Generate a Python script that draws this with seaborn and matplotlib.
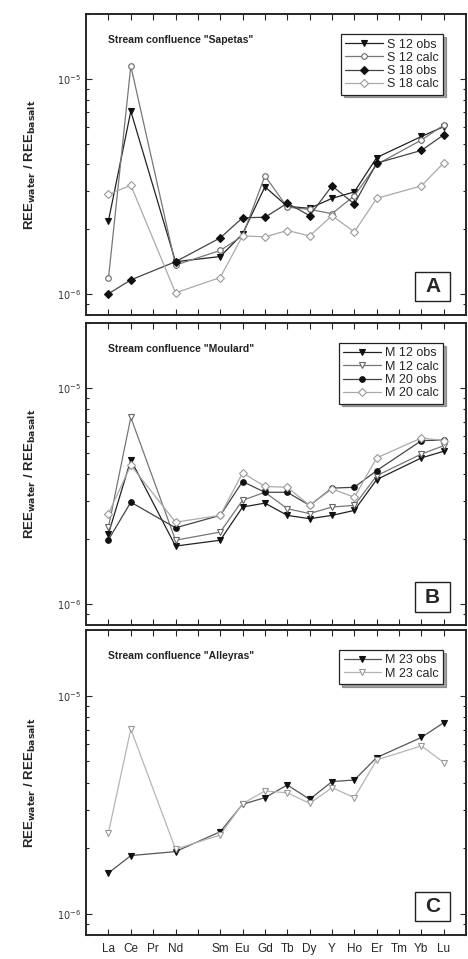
import numpy as np
import pandas as pd
import matplotlib
matplotlib.use("Agg")
import matplotlib.pyplot as plt
import seaborn as sns
from matplotlib.ticker import LogLocator, NullFormatter, FixedLocator
from matplotlib.patches import Rectangle

# tick axis (Pm slot left blank, Y placed between Dy and Ho)
tick_labels = ["La", "Ce", "Pr", "Nd", "", "Sm", "Eu", "Gd", "Tb", "Dy", "Y", "Ho", "Er", "Tm", "Yb", "Lu"]
elements = ["La", "Ce", "Nd", "Sm", "Eu", "Gd", "Tb", "Dy", "Y", "Ho", "Er", "Yb", "Lu"]

# panel A - Sapetas
s12_obs = [2.19e-6, 7.08e-6, 1.41e-6, 1.49e-6, 1.90e-6, 3.15e-6, 2.55e-6, 2.50e-6, 2.78e-6, 2.98e-6, 4.31e-6, 5.40e-6, 6.00e-6]
s12_calc = [1.18e-6, 1.15e-5, 1.36e-6, 1.59e-6, 1.86e-6, 3.54e-6, 2.53e-6, 2.47e-6, 2.36e-6, 2.86e-6, 4.00e-6, 5.20e-6, 6.10e-6]
s18_obs = [1.00e-6, 1.16e-6, 1.41e-6, 1.82e-6, 2.26e-6, 2.27e-6, 2.64e-6, 2.31e-6, 3.18e-6, 2.62e-6, 4.06e-6, 4.65e-6, 5.50e-6]
s18_calc = [2.90e-6, 3.20e-6, 1.01e-6, 1.19e-6, 1.86e-6, 1.84e-6, 1.97e-6, 1.86e-6, 2.31e-6, 1.94e-6, 2.78e-6, 3.18e-6, 4.07e-6]

# panel B - Moulard
m12_obs = [2.12e-6, 4.66e-6, 1.86e-6, 1.98e-6, 2.82e-6, 2.94e-6, 2.58e-6, 2.49e-6, 2.58e-6, 2.72e-6, 3.78e-6, 4.76e-6, 5.11e-6]
m12_calc = [2.28e-6, 7.33e-6, 1.98e-6, 2.16e-6, 3.03e-6, 3.30e-6, 2.77e-6, 2.63e-6, 2.82e-6, 2.87e-6, 3.94e-6, 4.96e-6, 5.42e-6]
m20_obs = [1.99e-6, 2.97e-6, 2.26e-6, 2.58e-6, 3.70e-6, 3.30e-6, 3.30e-6, 2.87e-6, 3.45e-6, 3.48e-6, 4.16e-6, 5.72e-6, 5.76e-6]
m20_calc = [2.63e-6, 4.40e-6, 2.40e-6, 2.58e-6, 4.06e-6, 3.51e-6, 3.48e-6, 2.87e-6, 3.42e-6, 3.13e-6, 4.76e-6, 5.89e-6, 5.72e-6]

# panel C - Alleyras
m23_obs = [1.54e-6, 1.85e-6, 1.93e-6, 2.38e-6, 3.18e-6, 3.41e-6, 3.90e-6, 3.35e-6, 4.04e-6, 4.11e-6, 5.21e-6, 6.44e-6, 7.53e-6]
m23_calc = [2.36e-6, 7.03e-6, 1.98e-6, 2.30e-6, 3.20e-6, 3.66e-6, 3.59e-6, 3.21e-6, 3.79e-6, 3.41e-6, 5.08e-6, 5.89e-6, 4.94e-6]

sns.set_style("ticks")
plt.rcParams["font.family"] = ["Liberation Sans", "DejaVu Sans"]

pos = {lab: i for i, lab in enumerate(tick_labels) if lab}
xs = [pos[e] for e in elements]

# style per series: marker, line colour, marker face / edge
obs_dark = dict(marker="v", color="#222222", mfc="#111111", mec="#111111")
calc_open = dict(marker="o", color="#777777", mfc="white", mec="#666666")
obs_dia = dict(marker="D", color="#444444", mfc="#111111", mec="#111111")
calc_light = dict(marker="D", color="#aaaaaa", mfc="white", mec="#999999")

panels = [
    ('Stream confluence "Sapetas"', "A",
     [("S 12 obs", s12_obs, obs_dark), ("S 12 calc", s12_calc, calc_open),
      ("S 18 obs", s18_obs, obs_dia), ("S 18 calc", s18_calc, calc_light)]),
    ('Stream confluence "Moulard"', "B",
     [("M 12 obs", m12_obs, obs_dark), ("M 12 calc", m12_calc, dict(calc_open, marker="v")),
      ("M 20 obs", m20_obs, dict(obs_dia, marker="o")), ("M 20 calc", m20_calc, calc_light)]),
    ('Stream confluence "Alleyras"', "C",
     [("M 23 obs", m23_obs, dict(obs_dark, color="#555555")),
      ("M 23 calc", m23_calc, dict(calc_light, marker="v", color="#b5b5b5"))]),
]

fig = plt.figure(figsize=(4.68, 9.59), dpi=100)
boxes = [(0.184, 0.672, 0.812, 0.313), (0.184, 0.348, 0.812, 0.315), (0.184, 0.025, 0.812, 0.318)]

for (title, letter, series), box in zip(panels, boxes):
    ax = fig.add_axes(box)
    for name, vals, st in series:
        sns.lineplot(x=xs, y=vals, ax=ax, label=name, color=st["color"], lw=0.9,
                     marker=st["marker"], markersize=4, markerfacecolor=st["mfc"],
                     markeredgecolor=st["mec"], markeredgewidth=0.8, sort=False)
    ax.set_yscale("log")
    ax.set_ylim(8e-7, 2e-5)
    ax.set_xlim(-1, 16)
    ax.yaxis.set_major_locator(FixedLocator([1e-6, 1e-5]))
    ax.yaxis.set_minor_locator(LogLocator(base=10, subs=np.arange(2, 10)))
    ax.yaxis.set_minor_formatter(NullFormatter())
    ax.set_yticklabels(["$10^{-6}$", "$10^{-5}$"], fontsize=7, color="#333333")
    ax.set_xticks(range(len(tick_labels)))
    if letter == "C":
        ax.set_xticklabels(tick_labels, fontsize=8.5)
    else:
        ax.set_xticklabels([])
    ax.tick_params(axis="both", which="both", direction="in", top=True, right=True, length=4, width=0.8)
    ax.tick_params(axis="y", which="minor", length=2.5)
    ax.tick_params(axis="x", pad=6)
    for sp in ax.spines.values():
        sp.set_linewidth(1.4)
    ax.set_ylabel(r"REE$_{\mathbf{water}}$ / REE$_{\mathbf{basalt}}$", fontsize=9.5, fontweight="bold", labelpad=14)
    ax.set_xlabel("")
    ax.text(0.058, 0.905, title, transform=ax.transAxes, fontsize=7.5, fontweight="bold", color="#222222")
    ax.add_patch(Rectangle((0.866, 0.045), 0.092, 0.097, transform=ax.transAxes, fill=False, lw=1.0, ec="#222222"))
    ax.text(0.912, 0.093, letter, transform=ax.transAxes, fontsize=15, fontweight="bold", ha="center", va="center")
    leg = ax.legend(loc="upper right", bbox_to_anchor=(0.955, 0.955), fontsize=9, frameon=True, fancybox=False,
                    shadow=True, handlelength=3.0, handletextpad=0.3, borderpad=0.35, labelspacing=0.1)
    leg.get_frame().set_edgecolor("#222222")
    leg.get_frame().set_linewidth(0.9)

fig.savefig("out.png", dpi=100)
